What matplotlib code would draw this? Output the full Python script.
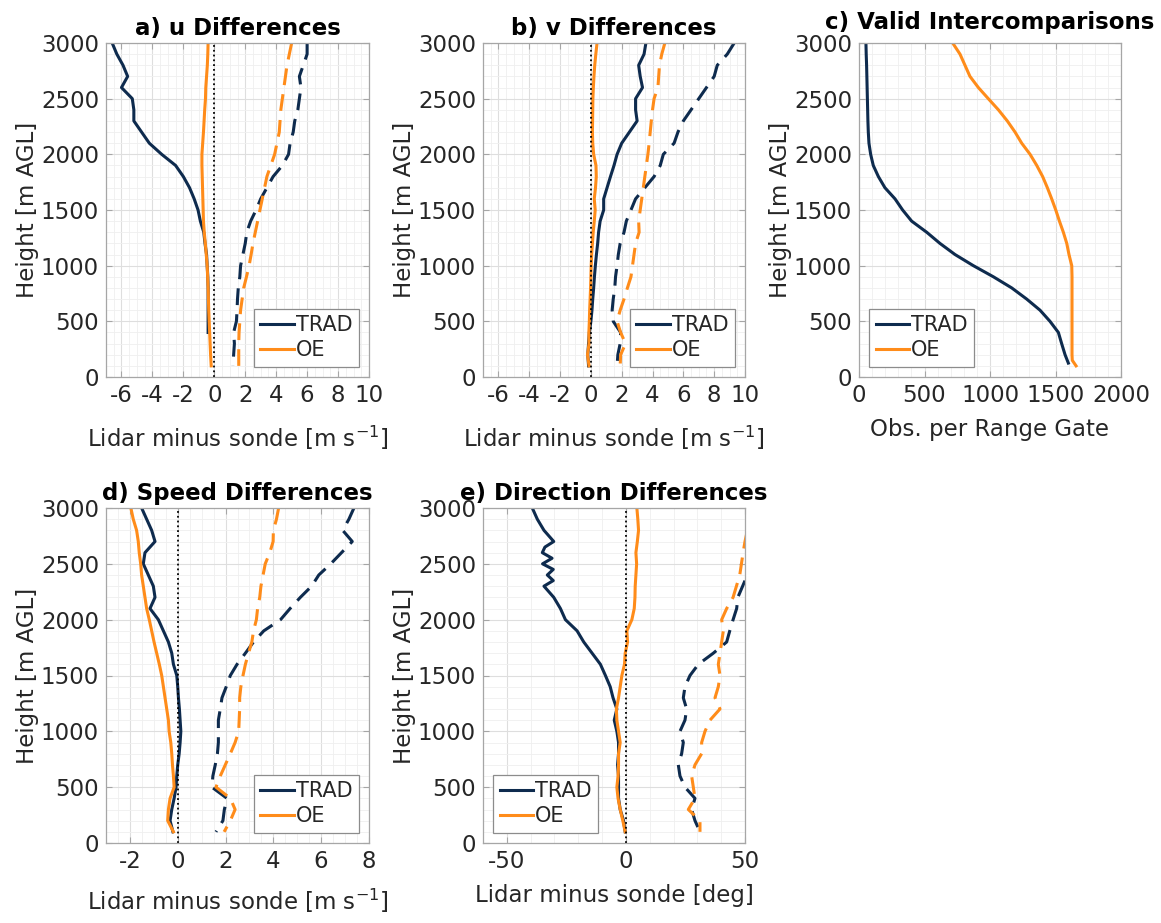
import numpy as np
import matplotlib
matplotlib.use("Agg")
import matplotlib.pyplot as plt
from matplotlib.ticker import AutoMinorLocator, MultipleLocator

plt.rcParams['font.family'] = ['DejaVu Sans']
plt.rcParams['axes.unicode_minus'] = False

# ---------------- data ----------------
H = [3000, 2900, 2800, 2700, 2600, 2500, 2400, 2300, 2200, 2100, 2000, 1900, 1800, 1700,
     1600, 1500, 1400, 1300, 1200, 1100, 1000, 900, 800, 700, 600, 500, 400, 300, 200, 100]

# a) u differences
u_trad_h = H[:27]
u_trad = [-6.6, -6.3, -5.9, -5.6, -6.0, -5.3, -5.2, -5.2, -4.7, -4.2, -3.4, -2.5, -2.0, -1.6,
          -1.3, -1.05, -0.9, -0.68, -0.6, -0.5, -0.46, -0.42, -0.4, -0.4, -0.4, -0.4, -0.4]
u_oe = [-0.4, -0.42, -0.45, -0.5, -0.55, -0.57, -0.62, -0.66, -0.7, -0.75, -0.8, -0.8, -0.78, -0.76,
        -0.74, -0.72, -0.7, -0.65, -0.58, -0.52, -0.46, -0.43, -0.4, -0.38, -0.36, -0.33, -0.3, -0.27, -0.24, -0.2]
u_trad_d = [6.0, 6.0, 5.75, 5.5, 5.6, 5.5, 5.4, 5.2, 5.1, 4.9, 4.8, 4.4, 3.8, 3.4,
            3.0, 2.7, 2.35, 2.1, 2.0, 1.85, 1.7, 1.65, 1.55, 1.5, 1.47, 1.43, 1.25, 1.3, 1.25, 1.2]
u_oe_d = [5.0, 4.85, 4.7, 4.6, 4.5, 4.4, 4.3, 4.25, 4.2, 4.05, 3.9, 3.65, 3.4, 3.25,
          3.1, 2.95, 2.8, 2.65, 2.5, 2.38, 2.25, 2.08, 1.9, 1.8, 1.7, 1.65, 1.6, 1.58, 1.58, 1.58]

# b) v differences
v_trad = [3.57, 3.45, 3.1, 3.2, 3.35, 2.9, 2.9, 3.0, 2.5, 2.0, 1.7, 1.5, 1.27, 1.05,
          0.83, 0.83, 0.6, 0.5, 0.44, 0.36, 0.29, 0.23, 0.18, 0.12, 0.07, 0.0, -0.1, -0.15, -0.2, -0.15]
v_oe = [0.4, 0.32, 0.25, 0.2, 0.16, 0.13, 0.12, 0.11, 0.1, 0.12, 0.18, 0.33, 0.35, 0.3,
        0.22, 0.28, 0.22, 0.15, 0.1, 0.05, 0.02, 0.0, -0.02, -0.05, -0.08, -0.1, -0.13, -0.12, -0.22, -0.12]
v_trad_d = [9.3, 8.85, 8.2, 8.0, 7.5, 7.0, 6.5, 6.0, 5.65, 5.4, 4.7, 4.5, 4.1, 3.5,
            2.9, 2.6, 2.3, 2.15, 1.9, 1.78, 1.7, 1.6, 1.55, 1.45, 1.38, 1.45, 1.93, 1.9, 1.75, 1.7]
v_oe_d = [4.8, 4.6, 4.45, 4.4, 4.35, 4.1, 4.0, 3.92, 3.85, 3.78, 3.7, 3.6, 3.5, 3.4,
          3.3, 3.2, 3.1, 3.13, 2.9, 2.8, 2.7, 2.6, 2.37, 2.15, 1.9, 1.7, 1.93, 2.25, 1.93, 1.9]

# c) valid intercomparisons
n_trad_h = H[:29] + [125]
n_trad = [53, 55, 58, 60, 62, 64, 66, 68, 71, 76, 89, 109, 148, 198,
          275, 333, 402, 517, 618, 733, 873, 1026, 1166, 1280, 1382, 1458, 1522, 1547, 1573, 1598]
n_oe_h = H[:29] + [150, 100]
n_oe = [715, 771, 809, 847, 911, 987, 1064, 1132, 1191, 1242, 1306, 1357, 1402, 1438,
        1471, 1502, 1530, 1560, 1586, 1603, 1624, 1626, 1626, 1626, 1626, 1626, 1626, 1626, 1626, 1628, 1657]

# d) speed differences
s_trad = [-1.51, -1.3, -1.09, -0.95, -1.37, -1.44, -1.23, -1.02, -0.95, -1.16, -0.81, -0.6, -0.39, -0.25,
          -0.18, -0.04, 0.0, 0.03, 0.07, 0.1, 0.13, 0.1, 0.06, 0.0, -0.04, -0.07, -0.15, -0.25, -0.32, -0.2]
s_oe = [-1.96, -1.86, -1.72, -1.65, -1.61, -1.55, -1.51, -1.44, -1.37, -1.3, -1.19, -1.09, -0.99, -0.88,
        -0.77, -0.67, -0.6, -0.53, -0.46, -0.39, -0.36, -0.29, -0.25, -0.22, -0.18, -0.15, -0.32, -0.39, -0.42, -0.18]
s_trad_d = [7.37, 7.16, 6.9, 7.3, 6.85, 6.4, 5.9, 5.6, 5.13, 4.7, 4.3, 3.6, 3.17, 2.83,
            2.48, 2.2, 2.03, 1.85, 1.78, 1.7, 1.7, 1.7, 1.66, 1.57, 1.47, 1.43, 2.06, 1.95, 1.89, 1.6]
s_oe_d = [4.22, 4.13, 4.0, 3.99, 3.85, 3.66, 3.57, 3.48, 3.43, 3.34, 3.29, 3.17, 3.1, 2.96,
          2.83, 2.73, 2.64, 2.59, 2.59, 2.57, 2.55, 2.4, 2.2, 1.99, 1.78, 1.6, 2.2, 2.4, 2.2, 1.94]

# e) direction differences
d_trad_h = [3000, 2900, 2800, 2700, 2650, 2600, 2550, 2500, 2450, 2400, 2350, 2300, 2200, 2100, 2000,
            1900, 1800, 1700, 1600, 1500, 1400, 1300, 1200, 1100, 1000, 900, 800, 700, 600, 500,
            400, 300, 200, 100]
d_trad = [-39.3, -37.2, -34.4, -30.3, -34.0, -35.1, -31.0, -35.0, -30.5, -33.0, -30.5, -34.4, -30.3, -27.5, -25.4,
          -20.5, -17.7, -14.2, -10.7, -8.6, -6.6, -5.4, -3.8, -4.9, -3.8, -3.1, -3.1, -3.5, -3.1, -3.1,
          -3.1, -2.4, -1.0, -0.3]
d_oe = [4.6, 5.0, 5.3, 4.8, 4.2, 4.5, 4.2, 3.9, 3.8, 3.5, 2.5, 0.4, 0.7, -0.3,
        -0.6, -1.7, -2.4, -3.1, -4.0, -3.8, -3.1, -2.4, -3.1, -3.1, -3.3, -3.8, -3.3, -2.4, -1.3, -0.3]
d_trad_d = [58, 56, 54, 50.5, 51, 51, 51, 49, 47, 46.5, 45, 43.6, 42.3, 36.7,
            30.4, 26.9, 24.8, 24.1, 25.5, 24.8, 22.7, 24.1, 23.4, 22, 22.7, 24.8, 29, 27.6, 29, 31.1]
d_oe_d = [55, 53, 51, 50, 49.2, 48.5, 47.8, 46.4, 45, 42.3, 40.2, 40.9, 40.2, 39.5,
          38.8, 39.5, 38.8, 37.4, 39.5, 35.3, 33.2, 31.8, 31.8, 29, 27.6, 28.3, 29, 26.2, 31.1, 31.1]

# ---------------- styling ----------------
NAVY = '#0e2b4e'
ORANGE = '#ff8c1a'
TXT = '#262626'
DASH = (0, (5.5, 3.0))
LW = 2.2
FS_TICK = 16.5
FS_LAB = 16.5
FS_TITLE = 16.5

W, Hpx = 1161, 923
fig = plt.figure(figsize=(W / 100, Hpx / 100), dpi=100)


def make_ax(left, top, width, height):
    return fig.add_axes([left / W, 1 - (top + height) / Hpx, width / W, height / Hpx])


def style(ax, xlim, xmaj, xminor_n, title, xlabel, xlabelpad, tpad=6):
    ax.set_xlim(*xlim)
    ax.set_ylim(0, 3000)
    ax.xaxis.set_major_locator(MultipleLocator(xmaj))
    ax.yaxis.set_major_locator(MultipleLocator(500))
    ax.xaxis.set_minor_locator(AutoMinorLocator(xminor_n))
    ax.yaxis.set_minor_locator(AutoMinorLocator(5))
    ax.grid(True, which='major', color='#dedede', lw=0.8)
    ax.grid(True, which='minor', color='#efefef', lw=0.6)
    ax.set_axisbelow(True)
    for s in ax.spines.values():
        s.set_color('#a6a6a6')
        s.set_linewidth(0.9)
    ax.tick_params(which='both', direction='in', colors='#a6a6a6', labelcolor=TXT,
                   labelsize=FS_TICK, top=True, right=True)
    ax.tick_params(which='major', length=4, pad=5)
    ax.tick_params(which='minor', length=0)
    ax.set_title(title, fontsize=FS_TITLE, fontweight='bold', color='black', pad=tpad)
    ax.set_xlabel(xlabel, fontsize=FS_LAB, color=TXT, labelpad=xlabelpad)
    ax.set_ylabel('Height [m AGL]', fontsize=FS_LAB, color=TXT, labelpad=1)


def legend(ax, loc):
    leg = ax.legend(loc=loc, fontsize=15, handlelength=1.6, handletextpad=0.1,
                    borderpad=0.3, labelspacing=0.25, fancybox=False, framealpha=1,
                    borderaxespad=0.5)
    leg.get_frame().set_edgecolor('#8c8c8c')
    leg.get_frame().set_linewidth(0.9)
    for t in leg.get_texts():
        t.set_color(TXT)


xl_ms = r'Lidar minus sonde [m s$^{-1}$]'

# a
ax = make_ax(106, 43, 263, 334)
ax.plot(u_trad_d, H, color=NAVY, lw=LW, ls=DASH)
ax.plot(u_oe_d, H, color=ORANGE, lw=LW, ls=DASH)
ax.plot(u_trad, u_trad_h, color=NAVY, lw=LW, label='TRAD')
ax.plot(u_oe, H, color=ORANGE, lw=LW, label='OE')
ax.axvline(0, color='black', ls=':', lw=1.3)
style(ax, (-7, 10), 2, 4, 'a) u Differences', xl_ms, 12)
legend(ax, 'lower right')

# b
ax = make_ax(483, 43, 262, 334)
ax.plot(v_trad_d, H, color=NAVY, lw=LW, ls=DASH)
ax.plot(v_oe_d, H, color=ORANGE, lw=LW, ls=DASH)
ax.plot(v_trad, H, color=NAVY, lw=LW, label='TRAD')
ax.plot(v_oe, H, color=ORANGE, lw=LW, label='OE')
ax.axvline(0, color='black', ls=':', lw=1.3)
style(ax, (-7, 10), 2, 4, 'b) v Differences', xl_ms, 12)
legend(ax, 'lower right')

# c
ax = make_ax(859, 43, 262, 334)
ax.plot(n_trad, n_trad_h, color=NAVY, lw=LW, label='TRAD')
ax.plot(n_oe, n_oe_h, color=ORANGE, lw=LW, label='OE')
style(ax, (0, 2000), 500, 5, 'c) Valid Intercomparisons', 'Obs. per Range Gate', 8, tpad=10)
legend(ax, 'lower left')

# d
ax = make_ax(106, 508, 263, 335)
ax.plot(s_trad_d, H, color=NAVY, lw=LW, ls=DASH)
ax.plot(s_oe_d, H, color=ORANGE, lw=LW, ls=DASH)
ax.plot(s_trad, H, color=NAVY, lw=LW, label='TRAD')
ax.plot(s_oe, H, color=ORANGE, lw=LW, label='OE')
ax.axvline(0, color='black', ls=':', lw=1.3)
style(ax, (-3, 8), 2, 4, 'd) Speed Differences', xl_ms, 10)
legend(ax, 'lower right')

# e
ax = make_ax(483, 508, 262, 335)
ax.plot(d_trad_d, H, color=NAVY, lw=LW, ls=DASH)
ax.plot(d_oe_d, H, color=ORANGE, lw=LW, ls=DASH)
ax.plot(d_trad, d_trad_h, color=NAVY, lw=LW, label='TRAD')
ax.plot(d_oe, H, color=ORANGE, lw=LW, label='OE')
ax.axvline(0, color='black', ls=':', lw=1.3)
style(ax, (-60, 50), 50, 5, 'e) Direction Differences', 'Lidar minus sonde [deg]', 8)
legend(ax, 'lower left')

fig.savefig('out.png', dpi=100, facecolor='white')
